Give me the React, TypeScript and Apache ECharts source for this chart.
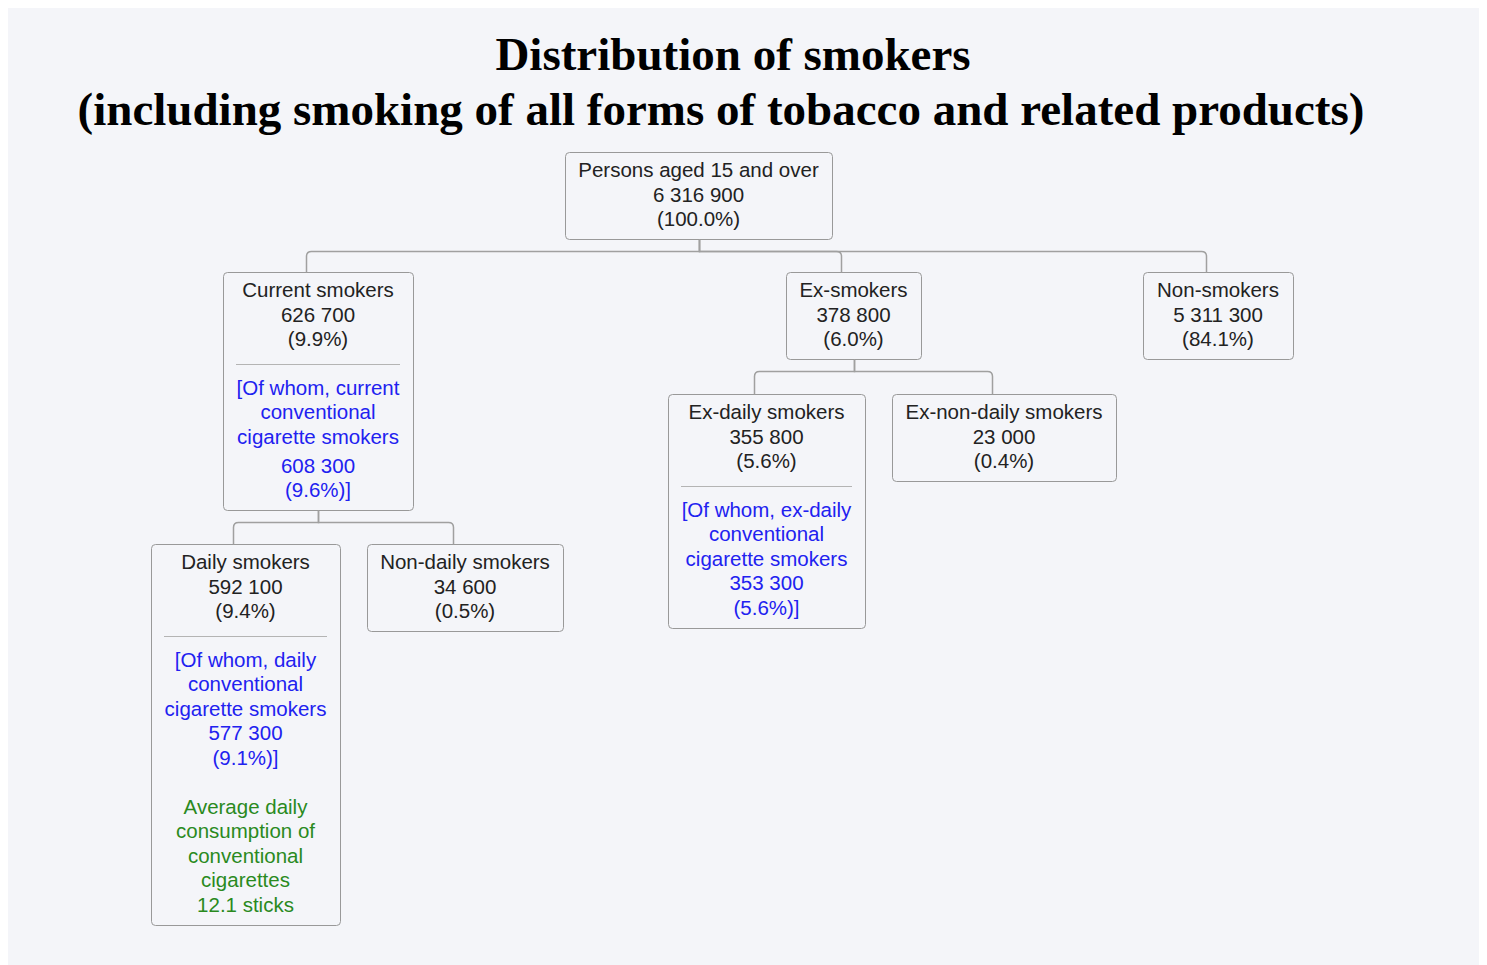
import React, { useEffect, useRef } from "react";
import * as echarts from "echarts";

// ---------- DATA ----------
const titleLines = [
  "Distribution of smokers",
  "(including smoking of all forms of tobacco and related products)",
];
const nodeNames = [
  "Persons aged 15 and over",
  "Current smokers",
  "Ex-smokers",
  "Non-smokers",
  "Daily smokers",
  "Non-daily smokers",
  "Ex-daily smokers",
  "Ex-non-daily smokers",
];
const nodeCounts = [6316900, 626700, 378800, 5311300, 592100, 34600, 355800, 23000];
const nodePercents = [100.0, 9.9, 6.0, 84.1, 9.4, 0.5, 5.6, 0.4];
const nodeParents = [-1, 0, 0, 0, 1, 1, 2, 2];
const subLabels: (string[] | null)[] = [
  null,
  ["[Of whom, current", "conventional", "cigarette smokers"],
  null,
  null,
  ["[Of whom, daily", "conventional", "cigarette smokers"],
  null,
  ["[Of whom, ex-daily", "conventional", "cigarette smokers"],
  null,
];
const subCounts: (number | null)[] = [null, 608300, null, null, 577300, null, 353300, null];
const subPercents: (number | null)[] = [null, 9.6, null, null, 9.1, null, 5.6, null];
const consumptionLabels: (string[] | null)[] = [
  null, null, null, null,
  ["Average daily", "consumption of", "conventional", "cigarettes"],
  null, null, null,
];
const consumptionSticks: (number | null)[] = [null, null, null, null, 12.1, null, null, null];

// ---------- LAYOUT (positions / sizes) ----------
const boxLeft = [557, 215, 778, 1135, 143, 359, 660, 884];
const boxTop = [144, 264, 264, 264, 536, 536, 386, 386];
const boxWidth = [267, 190, 135, 150, 189, 196, 197, 224];
const subValueGap = [0, 4.5, 0, 0, 0, 0, 0, 0];

const LINE_H = 24.5;
const FIRST_LINE = 17.5;
const BOTTOM_PAD = 20.5;
const SEP_OFFSET = 92;
const SUB_FIRST = 23;
const SEP_INSET = 13;
const TRUNK = 12;
const CHILD_SHIFT = -12.5;

const FONT = '20.5px "Liberation Sans", Arial, sans-serif';
const BLACK = "#222222";
const BLUE = "#2121f0";
const GREEN = "#2a8a1e";
const BORDER = "#999999";
const LINK = "#a0a0a0";

const fmtNum = (v: number) => String(v).replace(/\B(?=(\d{3})+(?!\d))/g, " ");
const fmtPct = (v: number) => v.toFixed(1) + "%";

const Connector = (echarts.graphic as any).extendShape({
  type: "treeConnector",
  shape: { x1: 0, y1: 0, x2: 0, y2: 0, midY: 0, r: 5 },
  buildPath(ctx: any, s: any) {
    const dir = s.x2 >= s.x1 ? 1 : -1;
    ctx.moveTo(s.x1, s.y1);
    ctx.lineTo(s.x1, s.midY);
    ctx.lineTo(s.x2 - dir * s.r, s.midY);
    ctx.quadraticCurveTo(s.x2, s.midY, s.x2, s.midY + s.r);
    ctx.lineTo(s.x2, s.y2);
  },
});
(echarts.graphic as any).registerShape("treeConnector", Connector);

function textEl(x: number, yCenterFirst: number, lines: string[], color: string) {
  return {
    type: "text",
    x,
    y: yCenterFirst - LINE_H / 2,
    silent: true,
    style: {
      text: lines.join("\n"),
      font: FONT,
      fill: color,
      align: "center",
      textAlign: "center",
      verticalAlign: "top",
      textVerticalAlign: "top",
      lineHeight: LINE_H,
    },
  };
}

function buildGraphics() {
  const els: any[] = [];
  const bottoms: number[] = [];

  titleLines.forEach((t, i) => {
    els.push({
      type: "text",
      x: i === 0 ? 725 : 713,
      y: i === 0 ? 46 : 101,
      silent: true,
      style: {
        text: t,
        font: 'bold 47px "Liberation Serif", "Times New Roman", serif',
        fill: "#000000",
        align: "center",
        textAlign: "center",
        verticalAlign: "middle",
        textVerticalAlign: "middle",
      },
    });
  });

  nodeNames.forEach((name, i) => {
    const left = boxLeft[i];
    const top = boxTop[i];
    const w = boxWidth[i];
    const cx = left + w / 2;
    const mainLines = [name, fmtNum(nodeCounts[i]), "(" + fmtPct(nodePercents[i]) + ")"];
    els.push(textEl(cx, top + FIRST_LINE, mainLines, BLACK));
    let last = top + FIRST_LINE + LINE_H * (mainLines.length - 1);

    const sub = subLabels[i];
    if (sub) {
      const sepY = top + SEP_OFFSET;
      els.push({
        type: "line",
        silent: true,
        shape: { x1: left + SEP_INSET, y1: sepY + 0.5, x2: left + w - SEP_INSET, y2: sepY + 0.5 },
        style: { stroke: "#b4b4b4", lineWidth: 1 },
      });
      const first = sepY + SUB_FIRST;
      els.push(textEl(cx, first, sub, BLUE));
      last = first + LINE_H * (sub.length - 1);
      const valStart = last + LINE_H + subValueGap[i];
      els.push(
        textEl(cx, valStart, [fmtNum(subCounts[i] as number), "(" + fmtPct(subPercents[i] as number) + ")]"], BLUE)
      );
      last = valStart + LINE_H;
    }
    const cons = consumptionLabels[i];
    if (cons) {
      const first = last + LINE_H * 2;
      const lines = [...cons, consumptionSticks[i] + " sticks"];
      els.push(textEl(cx, first, lines, GREEN));
      last = first + LINE_H * (lines.length - 1);
    }
    const h = Math.round(last + BOTTOM_PAD - top);
    bottoms[i] = top + h;
    els.push({
      type: "rect",
      silent: true,
      shape: { x: left + 0.5, y: top + 0.5, width: w, height: h, r: 4 },
      style: { fill: "none", stroke: BORDER, lineWidth: 1 },
    });
  });

  nodeParents.forEach((p, i) => {
    if (p < 0) return;
    const px = Math.round(boxLeft[p] + boxWidth[p] / 2) + 0.5;
    const py = bottoms[p] + 0.5;
    const cx = Math.round(boxLeft[i] + boxWidth[i] / 2 + CHILD_SHIFT) + 0.5;
    els.push({
      type: "treeConnector",
      silent: true,
      shape: { x1: px, y1: py, x2: cx, y2: boxTop[i] + 0.5, midY: py + TRUNK, r: 5 },
      style: { stroke: LINK, lineWidth: 1.5, fill: "none" },
    });
  });
  return els;
}

export default function App() {
  const ref = useRef<HTMLDivElement>(null);
  useEffect(() => {
    if (!ref.current) return;
    const chart = echarts.init(ref.current, undefined, { renderer: "svg" });
    chart.setOption({
      animation: false,
      backgroundColor: "#f4f5f9",
      graphic: { elements: buildGraphics() },
    });
    return () => chart.dispose();
  }, []);
  return <div ref={ref} style={{ width: "100%", height: 957, background: "#f4f5f9" }} />;
}
